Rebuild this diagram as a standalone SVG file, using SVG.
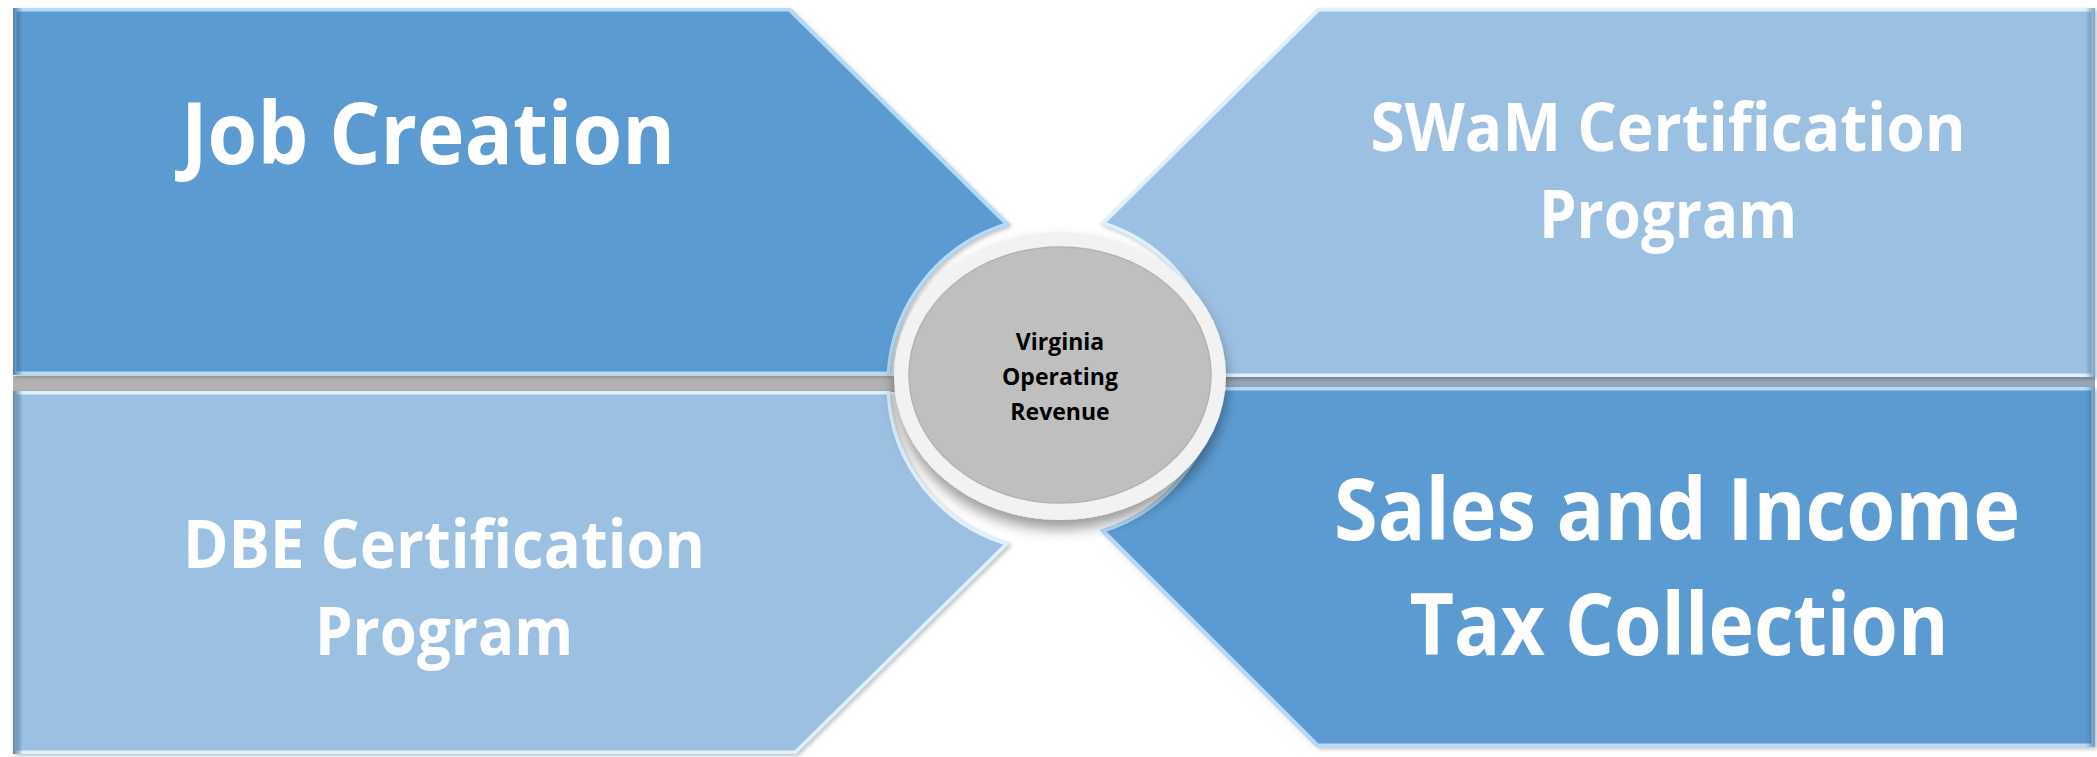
<svg xmlns="http://www.w3.org/2000/svg" width="2097" height="757" viewBox="0 0 2097 757">
  <style>
    .dark { fill: #5b9bd1; }
    .light { fill: #9cc0e2; }
    .hl { fill: none; stroke: #b4dcfa; stroke-width: 7; }
    .hl2 { fill: none; stroke: #dff1ff; stroke-width: 7; }
    .big { font-family: "Open Sans", "Liberation Sans", sans-serif; font-weight: 700; fill: #ffffff; text-anchor: middle; }
    .ctr { font-family: "Open Sans", "Liberation Sans", sans-serif; font-weight: 700; fill: #000000; text-anchor: middle; font-size: 23px; }
  </style>
  <defs>
    <path id="pTL" d="M13,8 L790,8 L1010,225 A165,165 0 0,0 890,375 L13,375 Z"/>
    <path id="pBL" d="M13,391 L890,391 A165,165 0 0,0 1010,543 L796,754 L13,754 Z"/>
    <path id="pTR" d="M1318,8 L2095,8 L2095,377 L1215,377 A160,160 0 0,0 1100,224 Z"/>
    <path id="pBR" d="M1100,530 A160,160 0 0,0 1215,387 L2095,387 L2095,747 L1317,747 Z"/>
    <clipPath id="cTL"><use href="#pTL"/></clipPath>
    <clipPath id="cBL"><use href="#pBL"/></clipPath>
    <clipPath id="cTR"><use href="#pTR"/></clipPath>
    <clipPath id="cBR"><use href="#pBR"/></clipPath>
    <linearGradient id="gLeft" x1="0" y1="0" x2="1" y2="0">
      <stop offset="0" stop-color="#2f5f8c" stop-opacity="0.75"/>
      <stop offset="1" stop-color="#2f5f8c" stop-opacity="0"/>
    </linearGradient>
    <linearGradient id="gRight" x1="1" y1="0" x2="0" y2="0">
      <stop offset="0" stop-color="#3a6a96" stop-opacity="0.6"/>
      <stop offset="1" stop-color="#3a6a96" stop-opacity="0"/>
    </linearGradient>
    <filter id="shadow" x="-20%" y="-20%" width="140%" height="150%">
      <feDropShadow dx="0" dy="9" stdDeviation="7" flood-color="#000000" flood-opacity="0.4"/>
    </filter>
    <filter id="soft" x="-5%" y="-5%" width="110%" height="110%">
      <feDropShadow dx="2" dy="2" stdDeviation="2" flood-color="#000000" flood-opacity="0.25"/>
    </filter>
  </defs>

  <rect x="0" y="0" width="2097" height="757" fill="#ffffff"/>

  <!-- separator bands -->
  <rect x="13" y="376" width="895" height="16" fill="#b2b2b2"/>
  <rect x="1195" y="376" width="900" height="12" fill="#97a7b8"/>

  <g id="node-job-creation">
    <use href="#pTL" class="dark" filter="url(#soft)"/>
    <g clip-path="url(#cTL)">
      <use href="#pTL" class="hl"/>
      <rect x="13" y="8" width="10" height="367" fill="url(#gLeft)"/>
    </g>
    <text class="big" x="428" y="164" font-size="86" textLength="494" lengthAdjust="spacingAndGlyphs">Job Creation</text>
  </g>

  <g id="node-dbe">
    <use href="#pBL" class="light" filter="url(#soft)"/>
    <g clip-path="url(#cBL)">
      <use href="#pBL" class="hl2"/>
      <rect x="13" y="391" width="10" height="363" fill="url(#gLeft)"/>
    </g>
    <text class="big" x="444" y="568" font-size="66" textLength="522" lengthAdjust="spacingAndGlyphs">DBE Certification</text>
    <text class="big" x="444" y="655" font-size="66" textLength="258" lengthAdjust="spacingAndGlyphs">Program</text>
  </g>

  <g id="node-swam">
    <use href="#pTR" class="light" filter="url(#soft)"/>
    <g clip-path="url(#cTR)">
      <use href="#pTR" class="hl2"/>
      <rect x="2085" y="8" width="10" height="369" fill="url(#gRight)"/>
    </g>
    <text class="big" x="1668" y="151" font-size="66" textLength="595" lengthAdjust="spacingAndGlyphs">SWaM Certification</text>
    <text class="big" x="1668" y="238" font-size="66" textLength="258" lengthAdjust="spacingAndGlyphs">Program</text>
  </g>

  <g id="node-sales">
    <use href="#pBR" class="dark" filter="url(#soft)"/>
    <g clip-path="url(#cBR)">
      <use href="#pBR" class="hl"/>
      <rect x="2085" y="387" width="10" height="360" fill="url(#gRight)"/>
    </g>
    <text class="big" x="1677" y="540" font-size="86" textLength="686" lengthAdjust="spacingAndGlyphs">Sales and Income</text>
    <text class="big" x="1679" y="655" font-size="86" textLength="539" lengthAdjust="spacingAndGlyphs">Tax Collection</text>
  </g>

  <g id="connectors"></g>

  <g id="node-center">
    <ellipse cx="1060" cy="376" rx="166" ry="144" fill="#f2f2f2" filter="url(#shadow)"/>
    <ellipse cx="1060" cy="375" rx="151" ry="128" fill="#bfbfbf" stroke="#b3b3b3" stroke-width="1.5"/>
    <text class="ctr" x="1060" y="350">Virginia</text>
    <text class="ctr" x="1060" y="385">Operating</text>
    <text class="ctr" x="1060" y="420">Revenue</text>
  </g>
</svg>
